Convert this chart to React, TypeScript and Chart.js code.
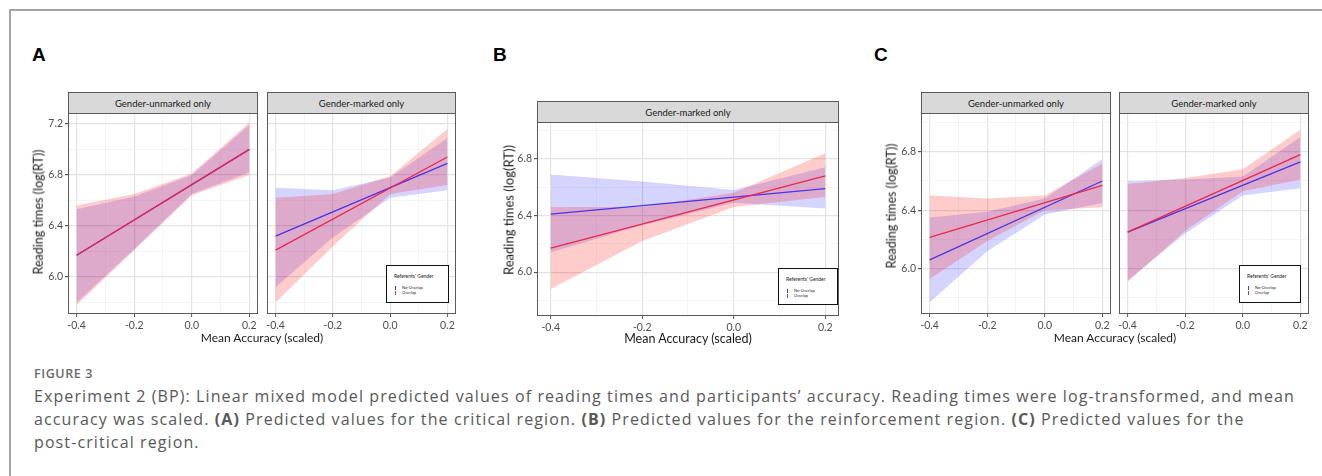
import React, { useEffect, useRef } from "react";
import { Chart, registerables } from "chart.js";
Chart.register(...registerables);

// ---------- data ----------
const RIBBON_X = [-0.4, -0.2, 0.0, 0.2];
const LINE_X = [-0.4, 0.2];
const X_MAJOR = [-0.4, -0.2, 0.0, 0.2];
const X_MINOR = [-0.3, -0.1, 0.1];
const Y_MAJOR = [6.0, 6.4, 6.8, 7.2];
const Y_MINOR = [5.8, 6.2, 6.6, 7.0];
const GROUPS = ["No-Overlap", "Overlap"];
const LEGEND_TITLE = "Referents' Gender";
const Y_TITLE = "Reading times (log(RT))";
const X_TITLE = "Mean Accuracy (scaled)";

// Panel A (critical region)
const aUnmarkedNoOverlapFit = [6.17, 7.0];
const aUnmarkedOverlapFit = [6.17, 7.0];
const aUnmarkedNoOverlapHi = [6.53, 6.63, 6.8, 7.19];
const aUnmarkedNoOverlapLo = [5.8, 6.22, 6.65, 6.82];
const aUnmarkedOverlapHi = [6.56, 6.65, 6.81, 7.21];
const aUnmarkedOverlapLo = [5.78, 6.21, 6.64, 6.8];

const aMarkedNoOverlapFit = [6.32, 6.89];
const aMarkedOverlapFit = [6.21, 6.94];
const aMarkedNoOverlapHi = [6.7, 6.68, 6.78, 7.09];
const aMarkedNoOverlapLo = [5.92, 6.31, 6.62, 6.68];
const aMarkedOverlapHi = [6.62, 6.65, 6.79, 7.16];
const aMarkedOverlapLo = [5.8, 6.24, 6.65, 6.72];

// Panel B (reinforcement region)
const bMarkedNoOverlapFit = [6.41, 6.59];
const bMarkedOverlapFit = [6.17, 6.68];
const bMarkedNoOverlapHi = [6.69, 6.64, 6.58, 6.74];
const bMarkedNoOverlapLo = [6.14, 6.33, 6.49, 6.45];
const bMarkedOverlapHi = [6.46, 6.46, 6.56, 6.84];
const bMarkedOverlapLo = [5.88, 6.22, 6.46, 6.53];

// Panel C (post-critical region)
const cUnmarkedNoOverlapFit = [6.06, 6.6];
const cUnmarkedOverlapFit = [6.215, 6.57];
const cUnmarkedNoOverlapHi = [6.35, 6.39, 6.48, 6.75];
const cUnmarkedNoOverlapLo = [5.77, 6.12, 6.37, 6.45];
const cUnmarkedOverlapHi = [6.5, 6.48, 6.5, 6.72];
const cUnmarkedOverlapLo = [5.93, 6.19, 6.4, 6.42];

const cMarkedNoOverlapFit = [6.25, 6.73];
const cMarkedOverlapFit = [6.25, 6.78];
const cMarkedNoOverlapHi = [6.6, 6.61, 6.63, 6.9];
const cMarkedNoOverlapLo = [5.92, 6.24, 6.5, 6.55];
const cMarkedOverlapHi = [6.58, 6.62, 6.68, 6.95];
const cMarkedOverlapLo = [5.91, 6.26, 6.53, 6.61];

// ---------- styles ----------
const BLUE = "rgb(72,52,230)";
const RED = "rgb(232,40,74)";
const BLUE_FILL = "rgba(0,0,255,0.17)";
const RED_FILL = "rgba(255,0,0,0.2)";
const FONT = "Lato";
const PADT = 12;
const PADR = 12;
const XAXIS_H = 20;

Chart.defaults.font.family = FONT;

type Series = {
  noFit: number[]; ovFit: number[];
  noHi: number[]; noLo: number[];
  ovHi: number[]; ovLo: number[];
};
type Facet = {
  strip: string;
  series: Series;
  l: number; r: number; t: number; b: number;
  yw: number; showY: boolean;
  yMin: number; yMax: number;
  stripH: number;
  tickFont: number;
  stripFont: number;
};

const near = (arr: number[], v: number) => arr.some((m) => Math.abs(m - v) < 1e-9);

const panelBorder = {
  id: "panelBorder",
  afterDraw(chart: any) {
    const { ctx, chartArea: a } = chart;
    ctx.save();
    ctx.strokeStyle = "#5a5a5a";
    ctx.lineWidth = 1;
    ctx.strokeRect(Math.round(a.left) + 0.5, Math.round(a.top) + 0.5, Math.round(a.right - a.left) - 1, Math.round(a.bottom - a.top) - 1);
    ctx.restore();
  },
};

function pts(xs: number[], ys: number[]) {
  return xs.map((x, i) => ({ x, y: ys[i] }));
}

function buildConfig(f: Facet): any {
  const s = f.series;
  const edge = { borderColor: "rgba(0,0,0,0)", borderWidth: 0, pointRadius: 0 };
  const datasets = [
    { label: GROUPS[1], data: pts(LINE_X, s.ovFit), borderColor: RED, borderWidth: 1.3, pointRadius: 0, fill: false },
    { label: GROUPS[0], data: pts(LINE_X, s.noFit), borderColor: BLUE, borderWidth: 1.3, pointRadius: 0, fill: false },
    { label: GROUPS[1] + " hi", data: pts(RIBBON_X, s.ovHi), ...edge, backgroundColor: RED_FILL, fill: "+1" },
    { label: GROUPS[1] + " lo", data: pts(RIBBON_X, s.ovLo), ...edge, fill: false },
    { label: GROUPS[0] + " hi", data: pts(RIBBON_X, s.noHi), ...edge, backgroundColor: BLUE_FILL, fill: "+1" },
    { label: GROUPS[0] + " lo", data: pts(RIBBON_X, s.noLo), ...edge, fill: false },
  ];
  const gridColor = (c: any, maj: number[]) => (near(maj, c.tick.value) ? "#e3e3e3" : "#f1f1f1");
  const gridW = (c: any, maj: number[]) => (near(maj, c.tick.value) ? 1.2 : 0.8);
  return {
    type: "line",
    data: { datasets },
    plugins: [panelBorder],
    options: {
      animation: false,
      responsive: false,
      maintainAspectRatio: false,
      layout: { padding: { top: PADT, right: PADR, left: 0, bottom: 0 } },
      plugins: { legend: { display: false }, tooltip: { enabled: false } },
      elements: { line: { tension: 0 } },
      scales: {
        x: {
          type: "linear",
          min: -0.43,
          max: 0.23,
          afterBuildTicks: (sc: any) => {
            sc.ticks = [...X_MAJOR, ...X_MINOR].sort((a, b) => a - b).map((v) => ({ value: v }));
          },
          afterFit: (sc: any) => { sc.height = XAXIS_H; },
          border: { display: false },
          grid: {
            color: (c: any) => gridColor(c, X_MAJOR),
            lineWidth: (c: any) => gridW(c, X_MAJOR),
            tickColor: (c: any) => (near(X_MAJOR, c.tick.value) ? "#555" : "rgba(0,0,0,0)"),
            tickLength: 3,
            tickWidth: 1,
          },
          ticks: {
            autoSkip: false,
            maxRotation: 0,
            padding: 2,
            color: "#4d4d4d",
            font: { size: f.tickFont, family: FONT },
            callback: (v: any) => (near(X_MAJOR, Number(v)) ? Number(v).toFixed(1) : ""),
          },
        },
        y: {
          type: "linear",
          min: f.yMin,
          max: f.yMax,
          afterBuildTicks: (sc: any) => {
            sc.ticks = [...Y_MAJOR, ...Y_MINOR]
              .filter((v) => v >= f.yMin && v <= f.yMax)
              .sort((a, b) => a - b)
              .map((v) => ({ value: v }));
          },
          afterFit: (sc: any) => { sc.width = f.yw; },
          border: { display: false },
          grid: {
            color: (c: any) => gridColor(c, Y_MAJOR),
            lineWidth: (c: any) => gridW(c, Y_MAJOR),
            tickColor: (c: any) => (near(Y_MAJOR, c.tick.value) ? "#555" : "rgba(0,0,0,0)"),
            tickLength: 3,
            drawTicks: f.showY,
          },
          ticks: {
            display: f.showY,
            autoSkip: false,
            padding: 2,
            color: "#4d4d4d",
            font: { size: f.tickFont, family: FONT },
            callback: (v: any) => (near(Y_MAJOR, Number(v)) ? Number(v).toFixed(1) : ""),
          },
        },
      },
    },
  };
}

function FacetChart({ f }: { f: Facet }) {
  const ref = useRef<HTMLCanvasElement>(null);
  const left = f.l - f.yw;
  const top = f.t - PADT;
  const width = f.r - f.l + f.yw + PADR;
  const height = PADT + (f.b - f.t) + XAXIS_H;
  useEffect(() => {
    const chart = new Chart(ref.current as HTMLCanvasElement, buildConfig(f));
    return () => chart.destroy();
  }, []);
  return (
    <>
      <div
        style={{
          position: "absolute",
          left: f.l,
          top: f.t - f.stripH,
          width: f.r - f.l,
          height: f.stripH + 1,
          boxSizing: "border-box",
          border: "1px solid #5a5a5a",
          background: "#d9d9d9",
          font: `${f.stripFont}px ${FONT}`,
          color: "#1a1a1a",
          display: "flex",
          alignItems: "center",
          justifyContent: "center",
        }}
      >
        {f.strip}
      </div>
      <canvas ref={ref} width={width} height={height} style={{ position: "absolute", left, top, width, height }} />
    </>
  );
}

function Legend({ x, y, w, h }: { x: number; y: number; w: number; h: number }) {
  const small: React.CSSProperties = { position: "absolute", whiteSpace: "nowrap", fontFamily: FONT, color: "#222", lineHeight: 1 };
  return (
    <div style={{ position: "absolute", left: x, top: y, width: w, height: h, boxSizing: "border-box", border: "1.5px solid #111", background: "#fff" }}>
      <div style={{ ...small, left: 7, top: 8, fontSize: 5 }}>{LEGEND_TITLE}</div>
      <div style={{ ...small, left: 8, top: 20, width: 1, height: 4, background: BLUE }} />
      <div style={{ ...small, left: 8, top: 25, width: 1, height: 4, background: RED }} />
      <div style={{ ...small, left: 15, top: 20, fontSize: 4 }}>{GROUPS[0]}</div>
      <div style={{ ...small, left: 15, top: 24.5, fontSize: 4 }}>{GROUPS[1]}</div>
    </div>
  );
}

function Title({ x, y, text, size, rotate }: { x: number; y: number; text: string; size: number; rotate?: boolean }) {
  return (
    <div
      style={{
        position: "absolute",
        left: x,
        top: y,
        transform: `translate(-50%,-50%)${rotate ? " rotate(-90deg)" : ""}`,
        whiteSpace: "nowrap",
        font: `${size}px ${FONT}`,
        color: "#1a1a1a",
        lineHeight: 1,
      }}
    >
      {text}
    </div>
  );
}

const facets: Facet[] = [
  {
    strip: "Gender-unmarked only",
    series: { noFit: aUnmarkedNoOverlapFit, ovFit: aUnmarkedOverlapFit, noHi: aUnmarkedNoOverlapHi, noLo: aUnmarkedNoOverlapLo, ovHi: aUnmarkedOverlapHi, ovLo: aUnmarkedOverlapLo },
    l: 68, r: 258, t: 113, b: 314, yw: 30, showY: true, yMin: 5.71, yMax: 7.285, stripH: 21, tickFont: 10.5, stripFont: 9.5,
  },
  {
    strip: "Gender-marked only",
    series: { noFit: aMarkedNoOverlapFit, ovFit: aMarkedOverlapFit, noHi: aMarkedNoOverlapHi, noLo: aMarkedNoOverlapLo, ovHi: aMarkedOverlapHi, ovLo: aMarkedOverlapLo },
    l: 267, r: 456, t: 113, b: 314, yw: 10, showY: false, yMin: 5.71, yMax: 7.285, stripH: 21, tickFont: 10.5, stripFont: 9.5,
  },
  {
    strip: "Gender-marked only",
    series: { noFit: bMarkedNoOverlapFit, ovFit: bMarkedOverlapFit, noHi: bMarkedNoOverlapHi, noLo: bMarkedNoOverlapLo, ovHi: bMarkedOverlapHi, ovLo: bMarkedOverlapLo },
    l: 537, r: 839, t: 122, b: 316, yw: 30, showY: true, yMin: 5.69, yMax: 7.06, stripH: 21, tickFont: 10.5, stripFont: 9.5,
  },
  {
    strip: "Gender-unmarked only",
    series: { noFit: cUnmarkedNoOverlapFit, ovFit: cUnmarkedOverlapFit, noHi: cUnmarkedNoOverlapHi, noLo: cUnmarkedNoOverlapLo, ovHi: cUnmarkedOverlapHi, ovLo: cUnmarkedOverlapLo },
    l: 921, r: 1111, t: 113, b: 314, yw: 30, showY: true, yMin: 5.69, yMax: 7.065, stripH: 21, tickFont: 10.5, stripFont: 9.5,
  },
  {
    strip: "Gender-marked only",
    series: { noFit: cMarkedNoOverlapFit, ovFit: cMarkedOverlapFit, noHi: cMarkedNoOverlapHi, noLo: cMarkedNoOverlapLo, ovHi: cMarkedOverlapHi, ovLo: cMarkedOverlapLo },
    l: 1119, r: 1309, t: 113, b: 314, yw: 10, showY: false, yMin: 5.69, yMax: 7.065, stripH: 21, tickFont: 10.5, stripFont: 9.5,
  },
];

const letterStyle: React.CSSProperties = { position: "absolute", font: "bold 19px 'Liberation Sans'", lineHeight: 1, color: "#000" };

export default function App() {
  const capFont = "'Open Sans'";
  return (
    <div style={{ position: "absolute", left: 0, top: 0, width: 1322, height: 476, background: "#fff", overflow: "hidden" }}>
      <div style={{ position: "absolute", left: 9, top: 9, width: 1400, height: 500, borderTop: "2px solid #a3a3a3", borderLeft: "2px solid #a3a3a3" }} />
      <div style={{ ...letterStyle, left: 32, top: 44.5 }}>A</div>
      <div style={{ ...letterStyle, left: 493, top: 44.5 }}>B</div>
      <div style={{ ...letterStyle, left: 874, top: 44.5 }}>C</div>

      {facets.map((f, i) => (
        <FacetChart key={i} f={f} />
      ))}

      <Title x={38.5} y={212} text={Y_TITLE} size={12.5} rotate />
      <Title x={262} y={338} text={X_TITLE} size={12} />
      <Title x={509} y={210} text={Y_TITLE} size={13} rotate />
      <Title x={688} y={339} text={X_TITLE} size={12.5} />
      <Title x={891.5} y={206} text={Y_TITLE} size={12.5} rotate />
      <Title x={1115} y={338} text={X_TITLE} size={12} />

      <Legend x={386} y={265} w={63} h={38} />
      <Legend x={778} y={268} w={60} h={37} />
      <Legend x={1239} y={265} w={62} h={38} />

      <div style={{ position: "absolute", left: 34, top: 368, font: `600 12.5px ${capFont}`, color: "#6a6a6a", letterSpacing: 0.6, lineHeight: 1 }}>FIGURE 3</div>
      <div style={{ position: "absolute", left: 34, top: 385, font: `16px ${capFont}`, color: "#585858", lineHeight: "23px", whiteSpace: "nowrap", letterSpacing: "1.1px" }}>
        Experiment 2 (BP): Linear mixed model predicted values of reading times and participants’ accuracy. Reading times were log-transformed, and mean
        <br />
        accuracy was scaled. <b>(A)</b> Predicted values for the critical region. <b>(B)</b> Predicted values for the reinforcement region. <b>(C)</b> Predicted values for the
        <br />
        post-critical region.
      </div>
    </div>
  );
}
